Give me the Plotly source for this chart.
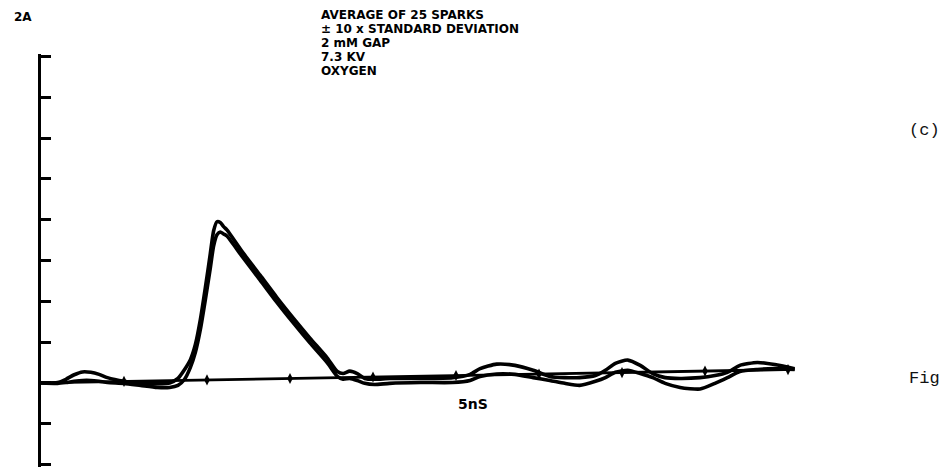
import plotly.graph_objects as go

# ---- data (time in 1-ns divisions, amplitude in axis divisions) ----
time_ns = [0, 0.2, 0.3, 0.4, 0.5, 0.6, 0.7, 0.8, 1.0, 1.2, 1.4, 1.55, 1.65, 1.73, 1.8, 1.86,
           1.92, 1.98, 2.04, 2.08, 2.12, 2.16, 2.2, 2.24, 2.43, 2.64, 2.84, 3.04, 3.24, 3.45,
           3.57, 3.64, 3.72, 3.81, 3.9, 4.02, 4.2, 4.57, 4.96, 5.17, 5.29, 5.49, 5.71, 5.93,
           6.13, 6.31, 6.49, 6.68, 6.8, 6.92, 7.07, 7.22, 7.37, 7.52, 7.7, 7.94, 8.12, 8.27,
           8.42, 8.63, 8.84, 9.08]
upper_env = [0, 0.01, 0.09, 0.20, 0.27, 0.26, 0.21, 0.13, 0.04, -0.01, -0.02, 0.0, 0.11, 0.33,
             0.57, 0.94, 1.55, 2.33, 3.17, 3.73, 3.95, 3.93, 3.83, 3.75, 3.20, 2.64, 2.10, 1.59,
             1.10, 0.61, 0.28, 0.23, 0.29, 0.23, 0.11, 0.09, 0.11, 0.11, 0.13, 0.21, 0.35, 0.46,
             0.43, 0.31, 0.16, 0.13, 0.13, 0.18, 0.31, 0.48, 0.56, 0.43, 0.23, 0.13, 0.11, 0.13,
             0.18, 0.26, 0.43, 0.50, 0.45, 0.35]
lower_env = [0, -0.01, 0.01, 0.04, 0.06, 0.06, 0.04, 0.01, -0.01, -0.06, -0.11, -0.11, -0.06,
             0.09, 0.38, 0.75, 1.31, 2.04, 2.82, 3.36, 3.63, 3.70, 3.65, 3.60, 3.08, 2.52, 1.98,
             1.47, 0.98, 0.49, 0.16, 0.09, 0.11, 0.06, -0.01, -0.04, -0.01, 0.01, 0.01, 0.06,
             0.16, 0.22, 0.21, 0.13, 0.06, -0.01, -0.06, 0.04, 0.13, 0.26, 0.31, 0.23, 0.13,
             -0.01, -0.11, -0.15, -0.01, 0.13, 0.28, 0.33, 0.35, 0.33]
baseline_x = [0, 9.08]
baseline_y = [0, 0.33]
marker_x = [1, 2, 3, 4, 5, 6, 7, 8, 9]
y_ticks = [-2, -1, 0, 1, 2, 3, 4, 5, 6, 7, 8]
header_lines = ["AVERAGE OF 25 SPARKS", "± 10 x STANDARD DEVIATION", "2 mM GAP", "7.3 KV", "OXYGEN"]

# ---- layout geometry (pixels) ----
W, H = 948, 468
UNIT = 40.9           # px per y division
PAD = 0.06            # extra range (divisions) beyond end ticks
L = 41
PW = 830
R = W - L - PW
T = round(56 - PAD * UNIT)
B = round(468 - 465 - PAD * UNIT)
PH = H - T - B


def xp(px):
    return (px - L) / PW


def yp(py):
    return (H - B - py) / PH


marker_y = [baseline_y[0] + (baseline_y[1] - baseline_y[0]) * x / baseline_x[1] for x in marker_x]

fig = go.Figure()
fig.add_trace(go.Scatter(x=baseline_x, y=baseline_y, mode="lines",
                         line=dict(color="#000", width=2.8), hoverinfo="skip"))
fig.add_trace(go.Scatter(x=marker_x, y=marker_y, mode="markers",
                         marker=dict(symbol="diamond-tall", size=8, color="#000"),
                         hoverinfo="skip"))
for env in (upper_env, lower_env):
    fig.add_trace(go.Scatter(x=time_ns, y=env, mode="lines",
                             line=dict(color="#000", width=3.6, shape="spline", smoothing=0.6),
                             hoverinfo="skip"))

plot_font = dict(family="DejaVu Sans", size=12, color="#000", weight="bold")
type_font = dict(family="Liberation Mono", size=17, color="#111")

ann = []
for i, line in enumerate(header_lines):
    ann.append(dict(text=line, x=xp(320), y=yp(15 + 14 * i), xref="paper", yref="paper",
                    xanchor="left", yanchor="middle", showarrow=False, font=plot_font,
                    borderpad=0))
ann.append(dict(text="2A", x=xp(12), y=yp(17), xref="paper", yref="paper", xanchor="left",
                yanchor="middle", showarrow=False, font=dict(plot_font, size=12)))
ann.append(dict(text="5nS", x=xp(456), y=yp(404), xref="paper", yref="paper", xanchor="left",
                yanchor="middle", showarrow=False, font=dict(plot_font, size=14)))
ann.append(dict(text="(c)", x=xp(907), y=yp(131), xref="paper", yref="paper", xanchor="left",
                yanchor="middle", showarrow=False, font=type_font))
ann.append(dict(text="Fig", x=xp(907), y=yp(378), xref="paper", yref="paper", xanchor="left",
                yanchor="middle", showarrow=False, font=type_font))

fig.update_layout(
    width=W, height=H, margin=dict(l=L, r=R, t=T, b=B, pad=0),
    paper_bgcolor="white", plot_bgcolor="white", showlegend=False,
    xaxis=dict(range=[0, 10], visible=False, showline=False, fixedrange=True),
    yaxis=dict(range=[-2 - PAD, 8 + PAD], showline=True, linecolor="#000", linewidth=3,
               ticks="inside", ticklen=10, tickwidth=3, tickcolor="#000",
               tickmode="array", tickvals=y_ticks, showticklabels=False,
               showgrid=False, zeroline=False, fixedrange=True),
    annotations=ann,
)

fig.write_html("out.html", config={"displayModeBar": False})
